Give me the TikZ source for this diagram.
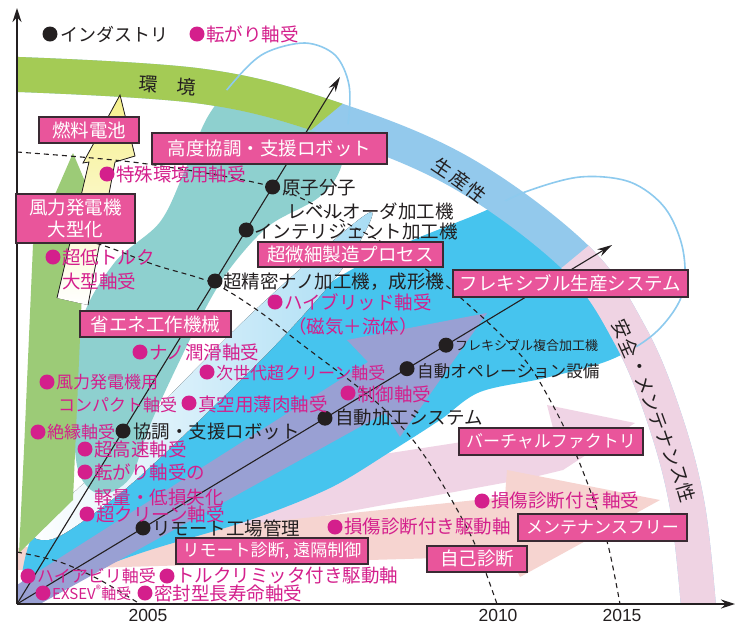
\documentclass[tikz,border=0pt]{standalone}
\usepackage{fontspec}
\setmainfont{Liberation Sans}
\newfontfamily\jp{Noto Sans CJK JP}
\usetikzlibrary{arrows.meta,calc}
\definecolor{cteal}{HTML}{8ED0CF}
\definecolor{ccyan}{HTML}{46C4EE}
\definecolor{cpurple}{HTML}{99A0D3}
\definecolor{cgreenband}{HTML}{A4CB55}
\definecolor{cgreenarrow}{HTML}{9CCB77}
\definecolor{cblueband}{HTML}{93C9EC}
\definecolor{cpinkband}{HTML}{EFD3E3}
\definecolor{cpinkarrow}{HTML}{F0D4E5}
\definecolor{csalmon}{HTML}{F6D4D0}
\definecolor{cstreak}{HTML}{A8DCF4}
\definecolor{coutline}{HTML}{8DCAEE}
\definecolor{cboxfill}{HTML}{E9559B}
\definecolor{cboxdraw}{HTML}{3A2A33}
\definecolor{cmag}{HTML}{D41F8C}
\definecolor{cyellow}{HTML}{F6F08C}
\definecolor{ctext}{HTML}{231F20}
\begin{document}
\begin{tikzpicture}[x=1pt,y=-1pt,
  jt/.style={font=\jp\fontsize{18.5}{20}\selectfont, inner sep=0pt, anchor=west, text=ctext},
  mt/.style={jt, text=cmag},
  small/.style={font=\jp\fontsize{17}{19}\selectfont},
  kdot/.style={circle, fill=ctext, inner sep=0pt, minimum size=15pt},
  mdot/.style={circle, fill=cmag, inner sep=0pt, minimum size=15pt},
  mbox/.style={draw=cboxdraw, line width=1.4pt, fill=cboxfill, text=white, font=\jp\fontsize{18.5}{22}\selectfont, inner sep=0pt, align=center},
  dashline/.style={ctext, line width=1.1pt, dash pattern=on 5pt off 4pt},
  trend/.style={ctext, line width=1.1pt, -{Stealth[length=15pt,width=8pt]}},
  axisline/.style={ctext, line width=1.4pt, -{Stealth[length=14pt,width=9pt]}},
  outl/.style={draw=coutline, line width=1.6pt},
  bandtext/.style={font=\jp\fontsize{19}{20}\selectfont, inner sep=0pt, text=ctext},
  yeartext/.style={inner sep=0pt, font=\fontsize{17.5}{19}\selectfont, text=ctext}
]
\useasboundingbox (0,0) rectangle (736,625);
\fill[white] (0,0) rectangle (736,625);

% pink arrows
\fill[cpinkarrow] (150,490) -- (553,428) -- (547,405) -- (635,423) -- (563,470) -- (530,478) -- (150,548) -- cycle;
\fill[csalmon] (17,548) -- (505,497) -- (507,470) -- (660,500) -- (520,577) -- (510,556) -- (17,570) -- cycle;

% fills inside the band
\begin{scope}
\clip (0,640) -- (0,74) -- plot[smooth,tension=0.6] coordinates {(5,74) (200,86) (330,118) (460,172) (575,257) (630,335) (665,420) (688,510) (700,625)} -- cycle;
\fill[ccyan] plot[smooth cycle, tension=0.55] coordinates {(22,580) (35,530) (70,495) (130,462) (200,415) (260,350) (320,290) (390,250) (480,213) (525,192) (580,177) (630,182) (665,208) (683,250) (682,295) (655,333) (610,360) (545,378) (480,392) (440,420) (390,452) (330,488) (250,520) (150,550) (80,575) (40,592)};
\fill[left color=white, right color=cstreak] plot[smooth cycle, tension=0.55] coordinates {(38,528) (110,458) (180,385) (250,315) (320,252) (372,212) (345,265) (285,335) (210,410) (130,485) (70,530) (45,540)};
\fill[cteal] plot[smooth cycle, tension=0.55] coordinates {(305,43) (335,55) (349,85) (348,125) (340,170) (318,198) (270,225) (235,262) (210,300) (180,360) (150,425) (130,478) (100,494) (78,470) (74,400) (82,320) (115,262) (160,222) (185,170) (207,118) (237,78) (265,53)};
\end{scope}

% green arrow
\fill[cgreenarrow] (73,153) -- (92,198) -- (84,245) -- (73,500) -- (19,553) -- (24,450) -- (33,245) -- cycle;
% purple arrow
\fill[cpurple] (17,585) -- (368,362) -- (347,340) -- (487,313) -- (400,437) -- (385,413) -- (40,604) -- (17,604) -- cycle;

% band
\begin{scope}
\clip (17,0) rectangle (736,604);
\draw[cblueband, line width=35pt] plot[smooth,tension=0.6] coordinates {(5,74) (200,86) (330,118) (460,172) (575,257) (630,335) (665,420) (688,510) (700,625)};
\begin{scope}
\clip (0,0) -- (467,0) -- (227,200) -- (0,200) -- cycle;
\draw[cgreenband, line width=35pt] plot[smooth,tension=0.6] coordinates {(5,74) (200,86) (330,118) (460,172) (575,257) (630,335) (665,420) (688,510) (700,625)};
\end{scope}
\begin{scope}
\clip (535,290) -- (640,203) -- (800,203) -- (800,700) -- (535,700) -- cycle;
\draw[cpinkband, line width=35pt] plot[smooth,tension=0.6] coordinates {(5,74) (200,86) (330,118) (460,172) (575,257) (630,335) (665,420) (688,510) (700,625)};
\end{scope}
\end{scope}

% outlines outside the band
\begin{scope}
\clip (0,-20) -- (0,74) -- plot[smooth,tension=0.6] coordinates {(5,74) (200,86) (330,118) (460,172) (575,257) (630,335) (665,420) (688,510) (700,625)} -- (760,640) -- (760,-20) -- cycle;
\draw[outl] plot[smooth cycle, tension=0.55] coordinates {(22,580) (35,530) (70,495) (130,462) (200,415) (260,350) (320,290) (390,250) (480,213) (525,192) (580,177) (630,182) (665,208) (683,250) (682,295) (655,333) (610,360) (545,378) (480,392) (440,420) (390,452) (330,488) (250,520) (150,550) (80,575) (40,592)};
\draw[outl] plot[smooth cycle, tension=0.55] coordinates {(305,43) (335,55) (349,85) (348,125) (340,170) (318,198) (270,225) (235,262) (210,300) (180,360) (150,425) (130,478) (100,494) (78,470) (74,400) (82,320) (115,262) (160,222) (185,170) (207,118) (237,78) (265,53)};
\end{scope}

% yellow arrow
\fill[top color=cyellow, bottom color=white] (120,95) -- (135,156) -- (115,162) -- (88,305) -- (57,298) -- (89,162) -- (83,163) -- cycle;
\draw[ctext, line width=0.8pt] (57,298) -- (89,162) -- (83,163) -- (120,95) -- (135,156) -- (115,162) -- (88,305);

% dashed iso-year lines
\draw[dashline] plot[smooth,tension=0.5] coordinates {(17,152) (140,163) (273,187) (350,225) (420,265) (480,315) (525,360) (550,400) (570,440) (590,490) (608,545) (620,604)};
\draw[dashline] plot[smooth,tension=0.5] coordinates {(17,228) (95,243) (155,265) (213,283) (260,312) (300,343) (353,383) (385,410) (413,440) (440,480) (473,540) (497,604)};
\draw[dashline] plot[smooth,tension=0.5] coordinates {(17,552) (60,562) (100,580) (140,604)};

% axes and trend lines
\coordinate (O) at (17,604);
\coordinate (Ytop) at (17,8);
\coordinate (Xend) at (735,604);
\coordinate (T1) at (340,77);
\coordinate (T2) at (612,245);
\draw[trend] (O) -- (T1);
\draw[trend] (O) -- (T2);
\draw[axisline] (O) -- (Ytop);
\draw[axisline] (O) -- (Xend);

% legend
\node[kdot] (lg1) at (50,34) {};
\node[jt, font=\jp\fontsize{18}{20}\selectfont] (lgt1) at (60,34) {インダストリ};
\node[mdot] (lg2) at (197,34) {};
\node[mt] (lgt2) at (206,34) {転がり軸受};

% industry dots
\node[kdot] (k1) at ($(O)!0.7913!(T1)$) {};
\node[jt] (kt1) at (282,188) {原子分子};
\node[jt] (kt1b) at (287,211) {レベルオーダ加工機};
\node[kdot] (k2) at ($(O)!0.7097!(T1)$) {};
\node[jt] (kt2) at (254,231) {インテリジェント加工機};
\node[kdot] (k3) at ($(O)!0.6129!(T1)$) {};
\node[jt] (kt3) at (223,282) {超精密ナノ加工機，成形機};
\node[kdot] (k4) at ($(O)!0.3283!(T1)$) {};
\node[jt] (kt4) at (133,432) {協調・支援ロボット};
\node[kdot] (k5) at ($(O)!0.2118!(T2)$) {};
\node[jt] (kt5) at (152,528) {リモート工場管理};
\node[kdot] (k6) at ($(O)!0.5176!(T2)$) {};
\node[jt] (kt6) at (335,417) {自動加工システム};
\node[kdot] (k7) at ($(O)!0.6555!(T2)$) {};
\node[jt, font=\jp\fontsize{16.6}{18}\selectfont] (kt7) at (417,371) {自動オペレーション設備};
\node[kdot] (k8) at ($(O)!0.7210!(T2)$) {};
\node[jt, font=\jp\fontsize{13}{15}\selectfont] (kt8) at (455,345) {フレキシブル複合加工機};

% bearing labels
\node[mdot] (m1) at (107,174) {}; \node[mt] (mt1) at (116,174) {特殊環境用軸受};
\node[mdot] (m2) at (53,257) {}; \node[mt] (mt2) at (62,257) {超低トルク}; \node[mt] (mt2b) at (62,281) {大型軸受};
\node[mdot] (m3) at (275,302) {}; \node[mt] (mt3) at (284,302) {ハイブリッド軸受}; \node[mt] (mt3b) at (288,326) {（磁気＋流体）};
\node[mdot] (m4) at (140,352) {}; \node[mt] (mt4) at (149,352) {ナノ潤滑軸受};
\node[mdot] (m5) at (207,372) {}; \node[mt, small] (mt5) at (216,373) {次世代超クリーン軸受};
\node[mdot] (m6) at (47,382) {}; \node[mt, small] (mt6) at (56,382) {風力発電機用}; \node[mt, small] (mt6b) at (58,405) {コンパクト軸受};
\node[mdot] (m7) at (189,403) {}; \node[mt] (mt7) at (198,404) {真空用薄肉軸受};
\node[mdot] (m8) at (348,393) {}; \node[mt] (mt8) at (357,394) {制御軸受};
\node[mdot] (m9) at (38,432) {}; \node[mt, small] (mt9) at (47,432) {絶縁軸受};
\node[mdot] (m10) at (85,449) {}; \node[mt] (mt10) at (94,449) {超高速軸受};
\node[mdot] (m11) at (85,472) {}; \node[mt] (mt11) at (94,472) {転がり軸受の}; \node[mt] (mt11b) at (94,497) {軽量・低損失化};
\node[mdot] (m12) at (87,514) {}; \node[mt] (mt12) at (96,514) {超クリーン軸受};
\node[mdot] (m13) at (28,576) {}; \node[mt, small] (mt13) at (37,576) {ハイアビリ軸受};
\node[mdot] (m14) at (167,576) {}; \node[mt] (mt14) at (176,576) {トルクリミッタ付き駆動軸};
\node[mdot] (m15) at (43,593) {}; \node[mt, font=\jp\fontsize{15}{17}\selectfont] (mt15) at (52,593) {EXSEV\textsuperscript{®}軸受};
\node[mdot] (m16) at (145,593) {}; \node[mt] (mt16) at (154,593) {密封型長寿命軸受};
\node[mdot] (m17) at (335,527) {}; \node[mt] (mt17) at (344,527) {損傷診断付き駆動軸};
\node[mdot] (m18) at (482,501) {}; \node[mt] (mt18) at (491,501) {損傷診断付き軸受};

% boxes
\node[mbox, minimum width=100pt, minimum height=26pt] (b1) at (89,130) {燃料電池};
\node[mbox, minimum width=119pt, minimum height=49pt] (b2) at (75.5,218.5) {風力発電機\\大型化};
\node[mbox, minimum width=235pt, minimum height=31pt] (b3) at (269.5,148.5) {高度協調・支援ロボット};
\node[mbox, minimum width=185pt, minimum height=25pt] (b4) at (350.5,254.5) {超微細製造プロセス};
\node[mbox, minimum width=235pt, minimum height=27pt] (b5) at (570.5,283.5) {フレキシブル生産システム};
\node[mbox, minimum width=151pt, minimum height=26pt] (b6) at (155.5,324) {省エネ工作機械};
\node[mbox, minimum width=184pt, minimum height=27pt, font=\jp\fontsize{17}{19}\selectfont] (b7) at (551,441.5) {バーチャルファクトリ};
\node[mbox, minimum width=169pt, minimum height=27pt, font=\jp\fontsize{17}{19}\selectfont] (b8) at (602.5,527.5) {メンテナンスフリー};
\node[mbox, minimum width=100pt, minimum height=26pt] (b9) at (477,559) {自己診断};
\node[mbox, minimum width=192pt, minimum height=26pt, font=\jp\fontsize{17}{19}\selectfont] (b10) at (272,551) {リモート診断, 遠隔制御};

% band texts
\node[bandtext, rotate=-4] (env1) at (148,84) {環};
\node[bandtext, rotate=-4] (env2) at (186,87) {境};
\foreach \ch/\px/\py/\r in {生/443/168/-34, 産/460/180/-36, 性/476/193/-38}
  {\node[bandtext, rotate=\r] (p\px) at (\px,\py) {\ch};}
\foreach \ch/\px/\py/\r in {安/622/329/-65, 全/629/348/-66, ・/637/367/-67, メ/644/385/-68, ン/651/403/-69, テ/658/421/-70, ナ/665/439/-71, ン/672/457/-72, ス/679/475/-73, 性/686/493/-74}
  {\node[bandtext, rotate=\r] (s\px) at (\px,\py) {\ch};}

% year ticks
\node[yeartext] (y2005) at (148,615.5) {2005};
\node[yeartext] (y2010) at (498,615.5) {2010};
\node[yeartext] (y2015) at (622,615.5) {2015};
\end{tikzpicture}
\end{document}
